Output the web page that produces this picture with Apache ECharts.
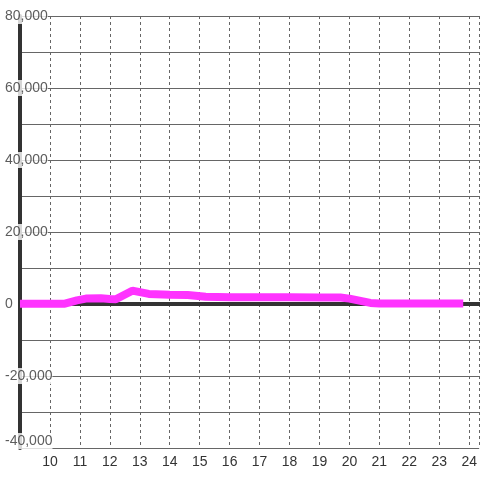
<!DOCTYPE html>
<html>
<head>
<meta charset="utf-8">
<script src="https://cdn.jsdelivr.net/npm/echarts@6/dist/echarts.min.js"></script>
<style>
  html, body { margin: 0; padding: 0; background: #fff; }
  #chart { width: 480px; height: 480px; }
</style>
</head>
<body>
<div id="chart"></div>
<script>
  // hour of day -> value
  const hours = [9.0, 10.5, 10.9, 11.2, 11.7, 12.0, 12.2, 12.75, 13.3, 14.0, 14.6, 15.2, 16.0, 17.0, 18.0, 19.0, 19.7, 20.0, 20.7, 21.0, 23.8];
  const values = [100, 100, 1000, 1500, 1600, 1400, 1300, 3700, 2800, 2600, 2500, 2000, 1900, 1900, 1900, 1800, 1800, 1500, 300, 150, 150];
  const yTicks = [-40000, -20000, 0, 20000, 40000, 60000, 80000];
  const xTicks = [10, 11, 12, 13, 14, 15, 16, 17, 18, 19, 20, 21, 22, 23, 24];

  const fmt = (v) => v.toLocaleString('en-US');
  const chart = echarts.init(document.getElementById('chart'), null, { renderer: 'canvas' });
  const font = 'Liberation Sans, Arial, sans-serif';

  // y tick labels drawn as series labels on their own layer, so the white box hides the grid lines
  const tickLabelData = yTicks.map((v) => ({
    value: [9, v],
    label: { offset: [-15, v === -40000 ? -7 : 0] },
  }));

  chart.setOption({
    animation: false,
    backgroundColor: '#fff',
    grid: { left: 20, right: 0, top: 16, bottom: 32, containLabel: false },
    xAxis: [
      {
        type: 'value',
        min: 9,
        max: 24.333,
        interval: 1,
        axisLine: { show: false, onZero: false },
        axisTick: { show: false },
        axisLabel: {
          margin: 7,
          fontSize: 14,
          fontFamily: font,
          color: '#333',
          showMaxLabel: false,
          formatter: (v) => (xTicks.includes(v) ? String(v) : ''),
        },
        splitLine: { show: true, lineStyle: { color: '#666', width: 1, type: [3, 3] } },
      },
      {
        type: 'value',
        min: 9,
        max: 24.333,
        position: 'top',
        axisLine: { show: true, onZero: true, onZeroAxisIndex: 0, lineStyle: { color: '#333', width: 4 } },
        axisTick: { show: false },
        axisLabel: { show: false },
        splitLine: { show: false },
      },
    ],
    yAxis: {
      type: 'value',
      min: -40000,
      max: 80000,
      interval: 10000,
      axisLine: { show: true, onZero: false, lineStyle: { color: '#333', width: 4 } },
      axisTick: { show: false },
      axisLabel: { show: false },
      splitLine: { show: true, lineStyle: { color: '#666', width: 1 } },
    },
    series: [
      {
        type: 'line',
        data: hours.map((h, i) => [h, values[i]]),
        showSymbol: false,
        lineStyle: { color: '#ff33ff', width: 8 },
        z: 3,
      },
      {
        type: 'scatter',
        data: tickLabelData,
        symbolSize: 0,
        silent: true,
        clip: false,
        zlevel: 1,
        z: 10,
        label: {
          show: true,
          position: 'inside',
          align: 'left',
          verticalAlign: 'middle',
          fontSize: 14,
          fontFamily: font,
          color: '#333',
          backgroundColor: '#fff',
          padding: [1, 0],
          lineHeight: 14,
          formatter: (p) => fmt(p.value[1]),
        },
      },
    ],
  });
</script>
</body>
</html>
